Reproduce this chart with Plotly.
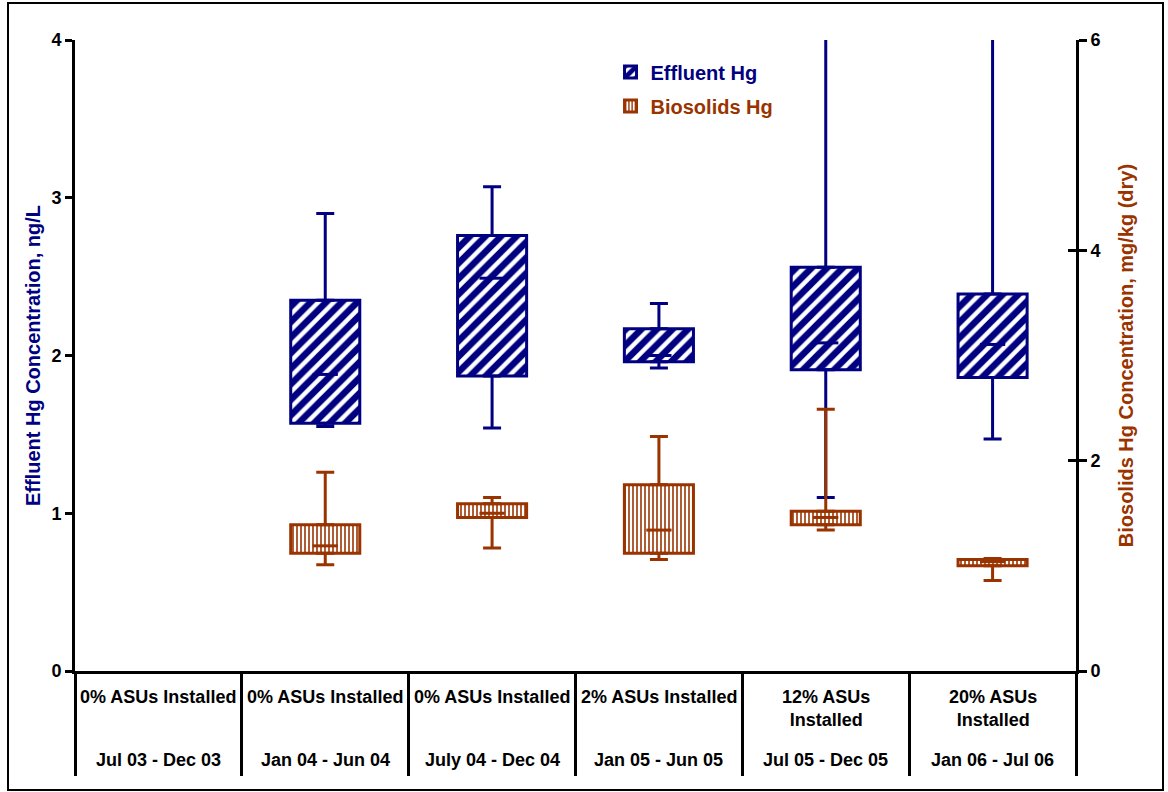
import plotly.graph_objects as go

# Sampling periods and installation status
periods = ["Jul 03 - Dec 03", "Jan 04 - Jun 04", "July 04 - Dec 04",
           "Jan 05 - Jun 05", "Jul 05 - Dec 05", "Jan 06 - Jul 06"]
asu_status = ["0% ASUs Installed", "0% ASUs Installed", "0% ASUs Installed",
              "2% ASUs Installed", "12% ASUs<br>Installed", "20% ASUs<br>Installed"]

# Effluent Hg (ng/L) box statistics per period (no data for first period)
eff_low = [None, 1.55, 1.54, 1.92, 1.10, 1.47]
eff_q1 = [None, 1.57, 1.87, 1.96, 1.91, 1.86]
eff_med = [None, 1.88, 2.49, 2.00, 2.08, 2.07]
eff_q3 = [None, 2.35, 2.76, 2.17, 2.56, 2.39]
eff_high = [None, 2.90, 3.07, 2.33, 4.06, 4.06]

# Biosolids Hg (mg/kg dry) box statistics per period
bio_low = [None, 1.01, 1.17, 1.06, 1.34, 0.86]
bio_q1 = [None, 1.12, 1.46, 1.12, 1.39, 1.00]
bio_med = [None, 1.19, 1.50, 1.34, 1.46, 1.04]
bio_q3 = [None, 1.39, 1.59, 1.77, 1.52, 1.06]
bio_high = [None, 1.89, 1.65, 2.23, 2.49, 1.07]

NAVY = "#000080"
RUST = "#993300"
FONT = "Liberation Sans, Arial, sans-serif"

xs = [i + 0.5 for i in range(len(periods))]
BOX_W = 0.414


def sub(a, b):
    return [None if (p is None or q is None) else round(p - q, 4) for p, q in zip(a, b)]


def box_traces(name, color, shape, size, solidity, low, q1, med, q3, high, yaxis):
    box = go.Bar(
        x=xs, y=sub(q3, q1), base=q1, width=BOX_W, yaxis=yaxis,
        name=f"<span style='color:{color}'><b>{name}</b></span>",
        legendgroup=name,
        marker=dict(color="white",
                    line=dict(color=color, width=3),
                    pattern=dict(shape=shape, fgcolor=color, bgcolor="white",
                                 fgopacity=1, size=size, solidity=solidity,
                                 fillmode="replace")),
        hoverinfo="skip",
    )
    n = len(xs)
    zeros = [0] * n
    whisk = go.Scatter(
        x=xs + xs, y=q3 + q1, yaxis=yaxis, mode="markers",
        marker=dict(size=1, color=color),
        error_y=dict(type="data", symmetric=False,
                     array=sub(high, q3) + zeros,
                     arrayminus=zeros + sub(q1, low),
                     color=color, thickness=3, width=9),
        cliponaxis=False, showlegend=False, hoverinfo="skip",
    )
    median = go.Scatter(
        x=xs, y=med, yaxis=yaxis, mode="markers",
        marker=dict(symbol="line-ew", size=18,
                    line=dict(color=color, width=3)),
        showlegend=False, hoverinfo="skip",
    )
    return [box, whisk, median]


fig = go.Figure()
for t in box_traces("Effluent Hg", NAVY, "/", 11, 0.6,
                    eff_low, eff_q1, eff_med, eff_q3, eff_high, "y"):
    fig.add_trace(t)
for t in box_traces("Biosolids Hg", RUST, "|", 4, 0.4,
                    bio_low, bio_q1, bio_med, bio_q3, bio_high, "y2"):
    fig.add_trace(t)
# carrier for the inner half of the right-hand tick marks
fig.add_trace(go.Scatter(x=[], y=[], yaxis="y3", showlegend=False))

annotations = []
for x, s, p in zip(xs, asu_status, periods):
    annotations.append(dict(x=x, y=0, xref="x", yref="paper", text=s,
                            showarrow=False, yanchor="top", yshift=-14,
                            font=dict(family=FONT, size=18, color="black", weight="bold")))
    annotations.append(dict(x=x, y=0, xref="x", yref="paper", text=p,
                            showarrow=False, yanchor="middle", yshift=-89,
                            font=dict(family=FONT, size=18, color="black", weight="bold")))

fig.update_layout(
    width=1168, height=792,
    margin=dict(l=75, r=92, t=40, b=121),
    paper_bgcolor="white", plot_bgcolor="white",
    barmode="overlay",
    font=dict(family=FONT, color="black"),
    showlegend=True,
    legend=dict(x=0.535, y=0.98, xanchor="left", yanchor="top",
                bgcolor="rgba(0,0,0,0)", font=dict(family=FONT, size=20),
                tracegroupgap=5),
    xaxis=dict(range=[0, 6], tickvals=list(range(7)), ticks="outside",
               ticklen=102, tickwidth=3, tickcolor="black",
               showticklabels=False, showline=True, linewidth=3,
               linecolor="black", showgrid=False, zeroline=False),
    yaxis=dict(range=[0, 4], tickvals=[0, 1, 2, 3, 4], ticks="outside",
               ticklen=7, tickwidth=3, tickcolor="black",
               showline=True, linewidth=3, linecolor="black",
               showgrid=False, zeroline=False,
               tickfont=dict(family=FONT, size=18, weight="bold"),
               title=dict(text="Effluent Hg Concentration, ng/L",
                          font=dict(family=FONT, size=20, color=NAVY, weight="bold"),
                          standoff=6)),
    yaxis2=dict(range=[0, 6], tickvals=[0, 2, 4, 6], ticks="outside",
                ticklen=8, tickwidth=3, tickcolor="black",
                overlaying="y", side="right",
                showline=True, linewidth=3, linecolor="black",
                showgrid=False, zeroline=False,
                tickfont=dict(family=FONT, size=18, weight="bold"),
                title=dict(text="Biosolids Hg Concentration, mg/kg (dry)",
                           font=dict(family=FONT, size=20, color=RUST, weight="bold"),
                           standoff=20)),
    yaxis3=dict(range=[0, 6], tickvals=[0, 2, 4, 6], ticks="inside",
                ticklen=8, tickwidth=3, tickcolor="black",
                overlaying="y", side="right", showticklabels=False,
                showline=False, showgrid=False, zeroline=False),
    annotations=annotations,
    shapes=[dict(type="rect", xref="paper", yref="paper",
                 x0=(8 - 75) / 1001, x1=(1163 - 75) / 1001,
                 y0=(671 - 790) / 631, y1=(671 - 3) / 631,
                 line=dict(color="black", width=2), layer="below")],
)

fig.write_html("out.html")
